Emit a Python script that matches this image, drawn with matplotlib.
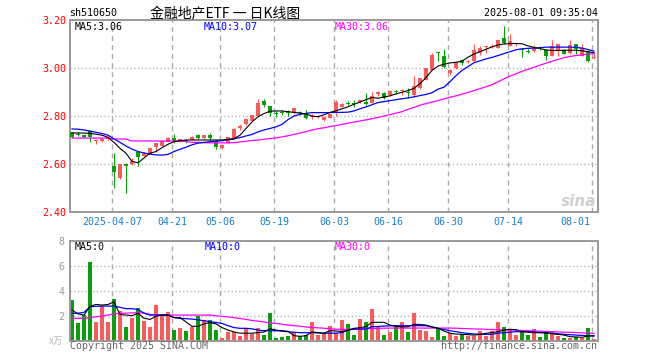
import numpy as np
import matplotlib.pyplot as plt

plt.rcParams['font.family'] = ['DejaVu Sans Mono']

# ---- data (price in CNY, volume in 万) ----
open_ = [2.732, 2.727, 2.722, 2.739, 2.697, 2.697, 2.703, 2.592, 2.542, 2.601,
         2.600, 2.649, 2.635, 2.642, 2.669, 2.675, 2.693, 2.710, 2.693, 2.700,
         2.700, 2.721, 2.708, 2.721, 2.697, 2.667, 2.688, 2.704, 2.748, 2.765,
         2.780, 2.800, 2.862, 2.843, 2.812, 2.815, 2.821, 2.811, 2.815, 2.811,
         2.797, 2.795, 2.783, 2.793, 2.815, 2.839, 2.855, 2.855, 2.857, 2.857,
         2.856, 2.891, 2.895, 2.888, 2.902, 2.904, 2.900, 2.888, 2.916, 2.951,
         2.993, 3.066, 3.052, 2.979, 3.000, 3.032, 3.025, 3.028, 3.063, 3.086,
         3.089, 3.084, 3.126, 3.091, 3.098, 3.081, 3.072, 3.070, 3.085, 3.077,
         3.052, 3.077, 3.077, 3.063, 3.098, 3.052, 3.066, 3.040]
high = [2.735, 2.735, 2.725, 2.742, 2.706, 2.710, 2.716, 2.645, 2.601, 2.603,
        2.625, 2.651, 2.648, 2.668, 2.689, 2.696, 2.712, 2.725, 2.706, 2.703,
        2.716, 2.725, 2.722, 2.728, 2.698, 2.685, 2.714, 2.749, 2.765, 2.787,
        2.806, 2.870, 2.870, 2.843, 2.822, 2.825, 2.826, 2.834, 2.820, 2.825,
        2.807, 2.803, 2.796, 2.810, 2.865, 2.856, 2.862, 2.866, 2.868, 2.895,
        2.902, 2.906, 2.900, 2.907, 2.910, 2.912, 2.916, 2.965, 2.960, 3.001,
        3.063, 3.067, 3.080, 2.994, 3.025, 3.038, 3.034, 3.098, 3.091, 3.091,
        3.100, 3.117, 3.175, 3.140, 3.104, 3.085, 3.079, 3.095, 3.091, 3.078,
        3.115, 3.099, 3.078, 3.115, 3.099, 3.100, 3.074, 3.063]
low = [2.708, 2.715, 2.708, 2.690, 2.685, 2.692, 2.700, 2.500, 2.538, 2.481,
       2.595, 2.592, 2.632, 2.640, 2.651, 2.674, 2.692, 2.686, 2.690, 2.688,
       2.698, 2.706, 2.706, 2.700, 2.664, 2.662, 2.686, 2.703, 2.742, 2.764,
       2.779, 2.798, 2.839, 2.800, 2.797, 2.805, 2.800, 2.808, 2.805, 2.788,
       2.786, 2.790, 2.779, 2.790, 2.800, 2.836, 2.845, 2.838, 2.855, 2.845,
       2.855, 2.885, 2.872, 2.885, 2.890, 2.889, 2.874, 2.881, 2.914, 2.950,
       2.990, 3.030, 3.000, 2.972, 2.997, 3.014, 3.020, 3.025, 3.056, 3.063,
       3.082, 3.083, 3.102, 3.090, 3.090, 3.046, 3.063, 3.068, 3.075, 3.035,
       3.050, 3.049, 3.058, 3.060, 3.060, 3.051, 3.024, 3.038]
close = [2.712, 2.722, 2.712, 2.712, 2.699, 2.706, 2.712, 2.565, 2.600, 2.590,
         2.613, 2.631, 2.645, 2.668, 2.686, 2.696, 2.710, 2.696, 2.704, 2.697,
         2.712, 2.710, 2.721, 2.708, 2.669, 2.681, 2.712, 2.746, 2.758, 2.786,
         2.804, 2.856, 2.847, 2.811, 2.808, 2.811, 2.811, 2.832, 2.813, 2.790,
         2.800, 2.799, 2.794, 2.808, 2.860, 2.852, 2.852, 2.852, 2.867, 2.849,
         2.884, 2.902, 2.874, 2.905, 2.899, 2.907, 2.897, 2.926, 2.958, 3.000,
         3.056, 3.063, 3.003, 2.993, 3.024, 3.022, 3.030, 3.077, 3.084, 3.088,
         3.091, 3.116, 3.105, 3.112, 3.100, 3.077, 3.068, 3.088, 3.082, 3.052,
         3.091, 3.098, 3.060, 3.094, 3.080, 3.084, 3.028, 3.042]

ma5 = [2.729, 2.729, 2.729, 2.728, 2.724, 2.720, 2.711, 2.690, 2.665, 2.645,
       2.611, 2.605, 2.625, 2.645, 2.652, 2.668, 2.682, 2.693, 2.697, 2.700,
       2.700, 2.700, 2.700, 2.700, 2.700, 2.700, 2.703, 2.705, 2.720, 2.748,
       2.775, 2.797, 2.810, 2.820, 2.821, 2.821, 2.818, 2.815, 2.812, 2.808,
       2.800, 2.797, 2.805, 2.815, 2.822, 2.830, 2.838, 2.849, 2.858, 2.868,
       2.877, 2.874, 2.879, 2.884, 2.892, 2.899, 2.906, 2.915, 2.935, 2.960,
       2.990, 3.008, 3.016, 3.021, 3.024, 3.028, 3.045, 3.058, 3.068, 3.078,
       3.088, 3.096, 3.100, 3.102, 3.102, 3.101, 3.092, 3.086, 3.081, 3.075,
       3.073, 3.073, 3.074, 3.074, 3.074, 3.072, 3.068, 3.064]
ma10 = [2.746, 2.745, 2.742, 2.737, 2.732, 2.727, 2.720, 2.705, 2.690, 2.675,
        2.662, 2.652, 2.646, 2.641, 2.638, 2.637, 2.640, 2.652, 2.661, 2.670,
        2.680, 2.687, 2.690, 2.693, 2.695, 2.697, 2.701, 2.705, 2.710, 2.717,
        2.723, 2.734, 2.742, 2.748, 2.755, 2.765, 2.785, 2.800, 2.807, 2.811,
        2.814, 2.814, 2.814, 2.814, 2.815, 2.815, 2.816, 2.821, 2.830, 2.838,
        2.847, 2.856, 2.860, 2.864, 2.868, 2.872, 2.875, 2.880, 2.885, 2.890,
        2.897, 2.912, 2.920, 2.943, 2.968, 2.990, 3.006, 3.022, 3.030, 3.038,
        3.044, 3.052, 3.060, 3.068, 3.076, 3.080, 3.082, 3.083, 3.084, 3.087,
        3.087, 3.087, 3.087, 3.087, 3.086, 3.083, 3.077, 3.070]
ma30 = [2.708, 2.708, 2.708, 2.708, 2.708, 2.708, 2.708, 2.704, 2.704, 2.704,
        2.696, 2.696, 2.696, 2.696, 2.696, 2.696, 2.696, 2.696, 2.695, 2.694,
        2.690, 2.690, 2.689, 2.688, 2.688, 2.688, 2.688, 2.689, 2.692, 2.695,
        2.698, 2.700, 2.703, 2.706, 2.709, 2.713, 2.718, 2.723, 2.729, 2.735,
        2.742, 2.747, 2.751, 2.756, 2.760, 2.765, 2.770, 2.775, 2.779, 2.784,
        2.789, 2.794, 2.800, 2.806, 2.812, 2.818, 2.828, 2.836, 2.845, 2.852,
        2.858, 2.864, 2.871, 2.878, 2.884, 2.891, 2.898, 2.906, 2.914, 2.922,
        2.931, 2.942, 2.955, 2.966, 2.976, 2.986, 2.995, 3.003, 3.012, 3.020,
        3.028, 3.036, 3.043, 3.048, 3.052, 3.055, 3.058, 3.060]

volume = [3.25, 1.41, 2.05, 6.30, 1.49, 2.77, 1.49, 3.33, 2.37, 1.09,
          1.81, 2.61, 1.57, 1.09, 2.85, 2.05, 2.29, 0.85, 1.01, 0.77,
          1.09, 1.97, 1.65, 1.65, 0.85, 0.21, 0.69, 0.69, 0.37, 0.93,
          0.53, 1.01, 0.45, 2.21, 0.21, 0.32, 0.40, 0.69, 0.37, 0.45,
          1.49, 0.45, 0.61, 1.17, 0.59, 1.65, 1.33, 0.45, 1.73, 1.49,
          2.53, 1.09, 0.45, 0.69, 1.17, 1.49, 0.69, 2.21, 0.85, 0.77,
          0.29, 0.93, 0.37, 0.61, 0.37, 0.53, 0.37, 0.37, 0.77, 0.37,
          0.77, 1.49, 1.09, 0.93, 0.45, 0.77, 0.45, 0.93, 0.29, 0.69,
          0.69, 0.37, 0.21, 0.21, 0.29, 0.21, 1.01, 0.13]
vol_ma5 = [2.45, 2.15, 2.05, 2.75, 2.90, 2.85, 2.90, 3.10, 2.10, 2.05,
           2.00, 2.20, 1.80, 1.70, 1.95, 2.05, 2.05, 1.85, 1.85, 1.50,
           1.15, 1.15, 1.35, 1.45, 1.35, 1.05, 0.85, 0.70, 0.60, 0.60,
           0.60, 0.65, 0.70, 0.95, 0.85, 0.80, 0.75, 0.40, 0.35, 0.40,
           0.70, 0.65, 0.60, 0.80, 0.78, 0.72, 0.85, 0.99, 1.04, 1.12,
           1.47, 1.47, 1.47, 1.25, 1.15, 1.10, 1.12, 1.31, 1.30, 1.25,
           1.10, 1.00, 0.77, 0.60, 0.53, 0.51, 0.48, 0.45, 0.50, 0.59,
           0.65, 0.72, 0.85, 0.91, 0.88, 0.72, 0.68, 0.64, 0.64, 0.62,
           0.55, 0.51, 0.45, 0.32, 0.30, 0.27, 0.38, 0.40]
vol_ma10 = [2.19, 2.20, 2.27, 2.72, 2.75, 2.77, 2.77, 2.77, 2.67, 2.56,
            2.56, 2.50, 2.20, 2.05, 2.07, 2.07, 2.05, 1.85, 1.79, 1.76,
            1.73, 1.67, 1.60, 1.52, 1.46, 1.38, 1.20, 1.05, 0.99, 0.99,
            0.95, 0.85, 0.80, 0.80, 0.80, 0.76, 0.72, 0.68, 0.64, 0.64,
            0.64, 0.62, 0.60, 0.60, 0.60, 0.65, 0.85, 0.93, 0.93, 0.93,
            1.12, 1.14, 1.17, 1.19, 1.20, 1.20, 1.20, 1.20, 1.20, 1.20,
            1.10, 0.99, 0.90, 0.80, 0.72, 0.64, 0.58, 0.54, 0.51, 0.51,
            0.51, 0.60, 0.64, 0.68, 0.72, 0.72, 0.72, 0.70, 0.66, 0.64,
            0.60, 0.55, 0.51, 0.48, 0.45, 0.42, 0.40, 0.37]
vol_ma30 = [1.79, 1.79, 1.79, 1.85, 1.92, 1.97, 2.05, 2.15, 2.19, 2.20,
            2.22, 2.24, 2.22, 2.10, 2.05, 2.05, 2.05, 2.05, 2.05, 2.05,
            2.05, 2.05, 2.05, 2.05, 2.00, 1.95, 1.90, 1.85, 1.78, 1.70,
            1.62, 1.56, 1.50, 1.42, 1.38, 1.32, 1.25, 1.20, 1.16, 1.10,
            1.06, 1.03, 1.00, 0.95, 0.92, 0.91, 0.90, 0.92, 0.94, 0.96,
            0.98, 0.99, 1.00, 1.01, 1.01, 1.01, 1.01, 1.01, 1.01, 1.01,
            1.01, 1.01, 1.01, 1.01, 1.00, 0.98, 0.96, 0.94, 0.93, 0.91,
            0.89, 0.87, 0.86, 0.85, 0.84, 0.82, 0.80, 0.78, 0.76, 0.74,
            0.72, 0.70, 0.68, 0.67, 0.65, 0.63, 0.61, 0.59]

tick_idx = [7, 17, 25, 34, 44, 53, 63, 73, 87]
tick_labels = ['2025-04-07', '04-21', '05-06', '05-19', '06-03',
               '06-16', '06-30', '07-14', '08-01']
price_ticks = [2.40, 2.60, 2.80, 3.00, 3.20]
vol_ticks = [2, 4, 6, 8]

RED = '#fb5a5a'
GREEN = '#0a9e0a'
GRID = '#aaaaaa'
FRAME = '#999999'

W, H = 660, 360
fig = plt.figure(figsize=(W / 100, H / 100), dpi=100)


def fx(px):
    return px / W


def fy(py):
    return 1 - py / H


ax = fig.add_axes([fx(70), fy(212), 528 / W, 192 / H])
axv = fig.add_axes([fx(70), fy(340.7), 528 / W, 100 / H])

o = np.array(open_)
c = np.array(close)
idx = np.arange(len(c))
colors = np.where(c >= o, RED, GREEN)

for a in (ax, axv):
    a.set_xlim(-1 / 3, len(c) - 1 / 3)
    a.set_xticks([])
    for s in a.spines.values():
        s.set_color(FRAME)
        s.set_linewidth(1.4)
    for t in tick_idx:
        a.axvline(t - 1 / 3, color=GRID, lw=1.0, ls=(0, (3.5, 3)), zorder=0)

# price panel
ax.set_ylim(2.40, 3.20)
for p in price_ticks[1:-1]:
    ax.axhline(p, color=GRID, lw=0.9, ls=(0, (1, 2)), zorder=0)
ax.set_yticks(price_ticks)
ax.set_yticklabels(['%.2f' % p for p in price_ticks])
ax.tick_params(axis='y', length=0, pad=3, labelcolor='#ff0000', labelsize=7.2)

ax.vlines(idx, low, high, colors=colors, lw=0.8, zorder=2)
body = np.maximum(np.abs(c - o), 0.004)
ax.bar(idx, body, 0.8, bottom=np.minimum(o, c), color=colors, linewidth=0, zorder=3)
ax.plot(idx, ma30, color='#ff00ff', lw=0.9, zorder=4)
ax.plot(idx, ma10, color='#0000ff', lw=0.9, zorder=5)
ax.plot(idx, ma5, color='#000000', lw=0.8, zorder=6)

# date labels
for k, (t, lab) in enumerate(zip(tick_idx, tick_labels)):
    last = k == len(tick_idx) - 1
    ax.text(t - 1 / 3 - (0.3 if last else 0), -0.05, lab,
            transform=ax.get_xaxis_transform(), ha='right' if last else 'center',
            va='center', color='#1a7fd0', fontsize=7.2)

# volume panel
axv.set_ylim(0, 8)
for v in vol_ticks[:-1]:
    axv.axhline(v, color=GRID, lw=0.9, ls=(0, (1, 2)), zorder=0)
axv.set_yticks(vol_ticks)
axv.set_yticklabels([str(v) for v in vol_ticks])
axv.tick_params(axis='y', length=0, pad=4, labelcolor='#999999', labelsize=7.2)
axv.bar(idx, volume, 0.8, color=colors, linewidth=0, zorder=2)
axv.plot(idx, vol_ma30, color='#ff00ff', lw=0.9, zorder=4)
axv.plot(idx, vol_ma10, color='#0000ff', lw=0.9, zorder=5)
axv.plot(idx, vol_ma5, color='#000000', lw=0.8, zorder=6)

# header
fig.text(fx(69), fy(13), 'sh510650', ha='left', va='center', fontsize=7.2)
fig.text(fx(150), fy(13), '金融地产ETF 一 日K线图', ha='left', va='center',
         fontsize=10, family=['Noto Sans CJK SC', 'DejaVu Sans'])
fig.text(fx(598), fy(13), '2025-08-01 09:35:04', ha='right', va='center', fontsize=7.2)

# moving-average captions
fig.text(fx(75), fy(26.5), 'MA5:3.06', color='black', va='center', fontsize=7.2)
fig.text(fx(204), fy(26.5), 'MA10:3.07', color='#0000ff', va='center', fontsize=7.2)
fig.text(fx(335), fy(26.5), 'MA30:3.06', color='#ff00ff', va='center', fontsize=7.2)
fig.text(fx(75), fy(246.7), 'MA5:0', color='black', va='center', fontsize=7.2)
fig.text(fx(205), fy(246.7), 'MA10:0', color='#0000ff', va='center', fontsize=7.2)
fig.text(fx(335), fy(246.7), 'MA30:0', color='#ff00ff', va='center', fontsize=7.2)

# footer
fig.text(fx(70), fy(346), 'Copyright 2025 SINA.COM', ha='left', va='center',
         color='#666666', fontsize=7.2)
fig.text(fx(597), fy(346), 'http://finance.sina.com.cn', ha='right', va='center',
         color='#666666', fontsize=7.2)
fig.text(fx(63), fy(341), 'x万', ha='right', va='center', color='#bbbbbb',
         fontsize=7, family=['Noto Sans CJK SC', 'DejaVu Sans'])

# sina watermark
fig.text(fx(596), fy(201), 'sina', ha='right', va='center', color='#cfcfcf',
         fontsize=11, fontweight='bold', style='italic', family='DejaVu Sans')

fig.savefig('out.png', dpi=100)
